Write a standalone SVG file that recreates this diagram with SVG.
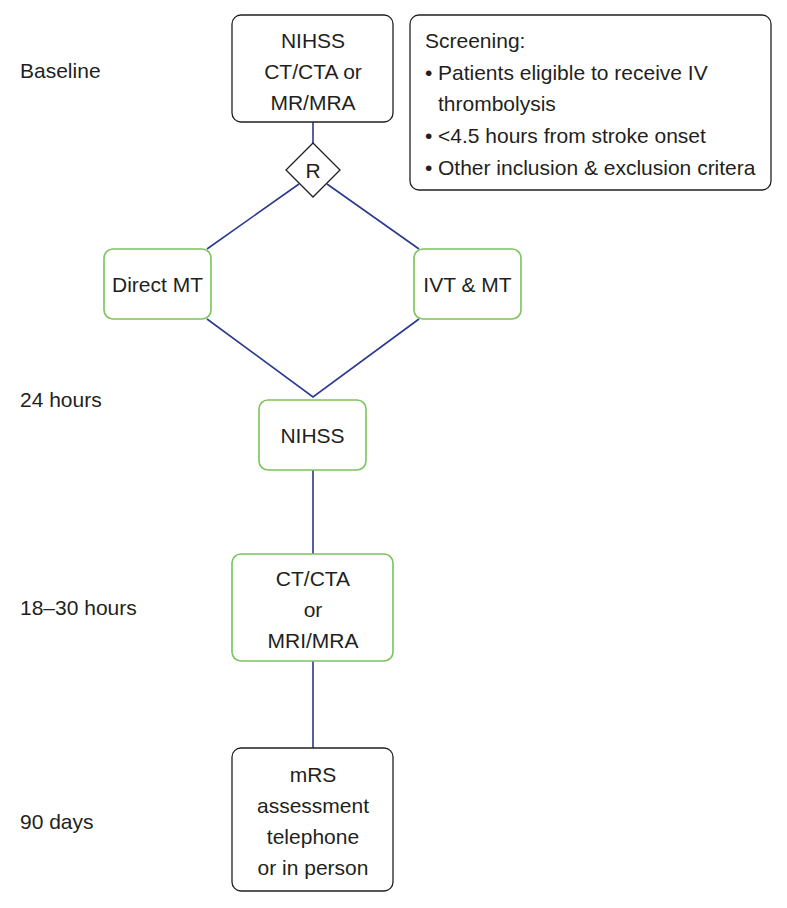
<svg xmlns="http://www.w3.org/2000/svg" width="787" height="908" viewBox="0 0 787 908">
<style>
text{font-family:"Liberation Sans",Arial,sans-serif;font-size:21px;fill:#231f20}
.c{text-anchor:middle}
.bk{fill:#fff;stroke:#231f20;stroke-width:1.3}
.gr{fill:#fff;stroke:#7cc35b;stroke-width:1.6}
.ln{stroke:#2b3990;stroke-width:1.6;fill:none}
</style>
<rect width="787" height="908" fill="#fff"/>
<g id="labels">
<text x="20" y="78">Baseline</text>
<text x="20" y="407">24 hours</text>
<text x="20" y="615">18–30 hours</text>
<text x="20" y="829">90 days</text>
</g>
<g id="connectors">
<line class="ln" x1="313" y1="122" x2="313" y2="143"/>
<line class="ln" x1="299" y1="184" x2="207" y2="249"/>
<line class="ln" x1="327" y1="184" x2="419" y2="249"/>
<polyline class="ln" points="207,319 313,397 419,319"/>
<line class="ln" x1="313" y1="470" x2="313" y2="554"/>
<line class="ln" x1="313" y1="661" x2="313" y2="748"/>
</g>
<g id="baseline">
<rect class="bk" x="232" y="15" width="161" height="107" rx="9"/>
<text class="c" x="313" y="48">NIHSS</text>
<text class="c" x="313" y="79">CT/CTA or</text>
<text class="c" x="313" y="110">MR/MRA</text>
</g>
<g id="screening">
<rect class="bk" x="410" y="15" width="361" height="175" rx="9"/>
<text x="425" y="48">Screening:</text>
<text x="425" y="80">•</text><text x="438" y="80">Patients eligible to receive IV</text>
<text x="438" y="111">thrombolysis</text>
<text x="425" y="143">•</text><text x="438" y="143">&lt;4.5 hours from stroke onset</text>
<text x="425" y="175">•</text><text x="438" y="175">Other inclusion &amp; exclusion critera</text>
</g>
<g id="randomize">
<polygon class="bk" points="313,143 340,170 313,197 286,170"/>
<text class="c" x="313" y="178">R</text>
</g>
<g id="direct-mt">
<rect class="gr" x="104" y="249" width="107" height="70" rx="9"/>
<text class="c" x="157.5" y="292">Direct MT</text>
</g>
<g id="ivt-mt">
<rect class="gr" x="414" y="249" width="107" height="70" rx="9"/>
<text class="c" x="467.5" y="292">IVT &amp; MT</text>
</g>
<g id="nihss-24">
<rect class="gr" x="259" y="400" width="107" height="70" rx="9"/>
<text class="c" x="312.5" y="443">NIHSS</text>
</g>
<g id="imaging">
<rect class="gr" x="232" y="554" width="161" height="107" rx="9"/>
<text class="c" x="313" y="586">CT/CTA</text>
<text class="c" x="313" y="617">or</text>
<text class="c" x="313" y="648">MRI/MRA</text>
</g>
<g id="mrs">
<rect class="bk" x="232" y="748" width="161" height="143" rx="9"/>
<text class="c" x="313" y="782">mRS</text>
<text class="c" x="313" y="813">assessment</text>
<text class="c" x="313" y="844">telephone</text>
<text class="c" x="313" y="875">or in person</text>
</g>
</svg>
